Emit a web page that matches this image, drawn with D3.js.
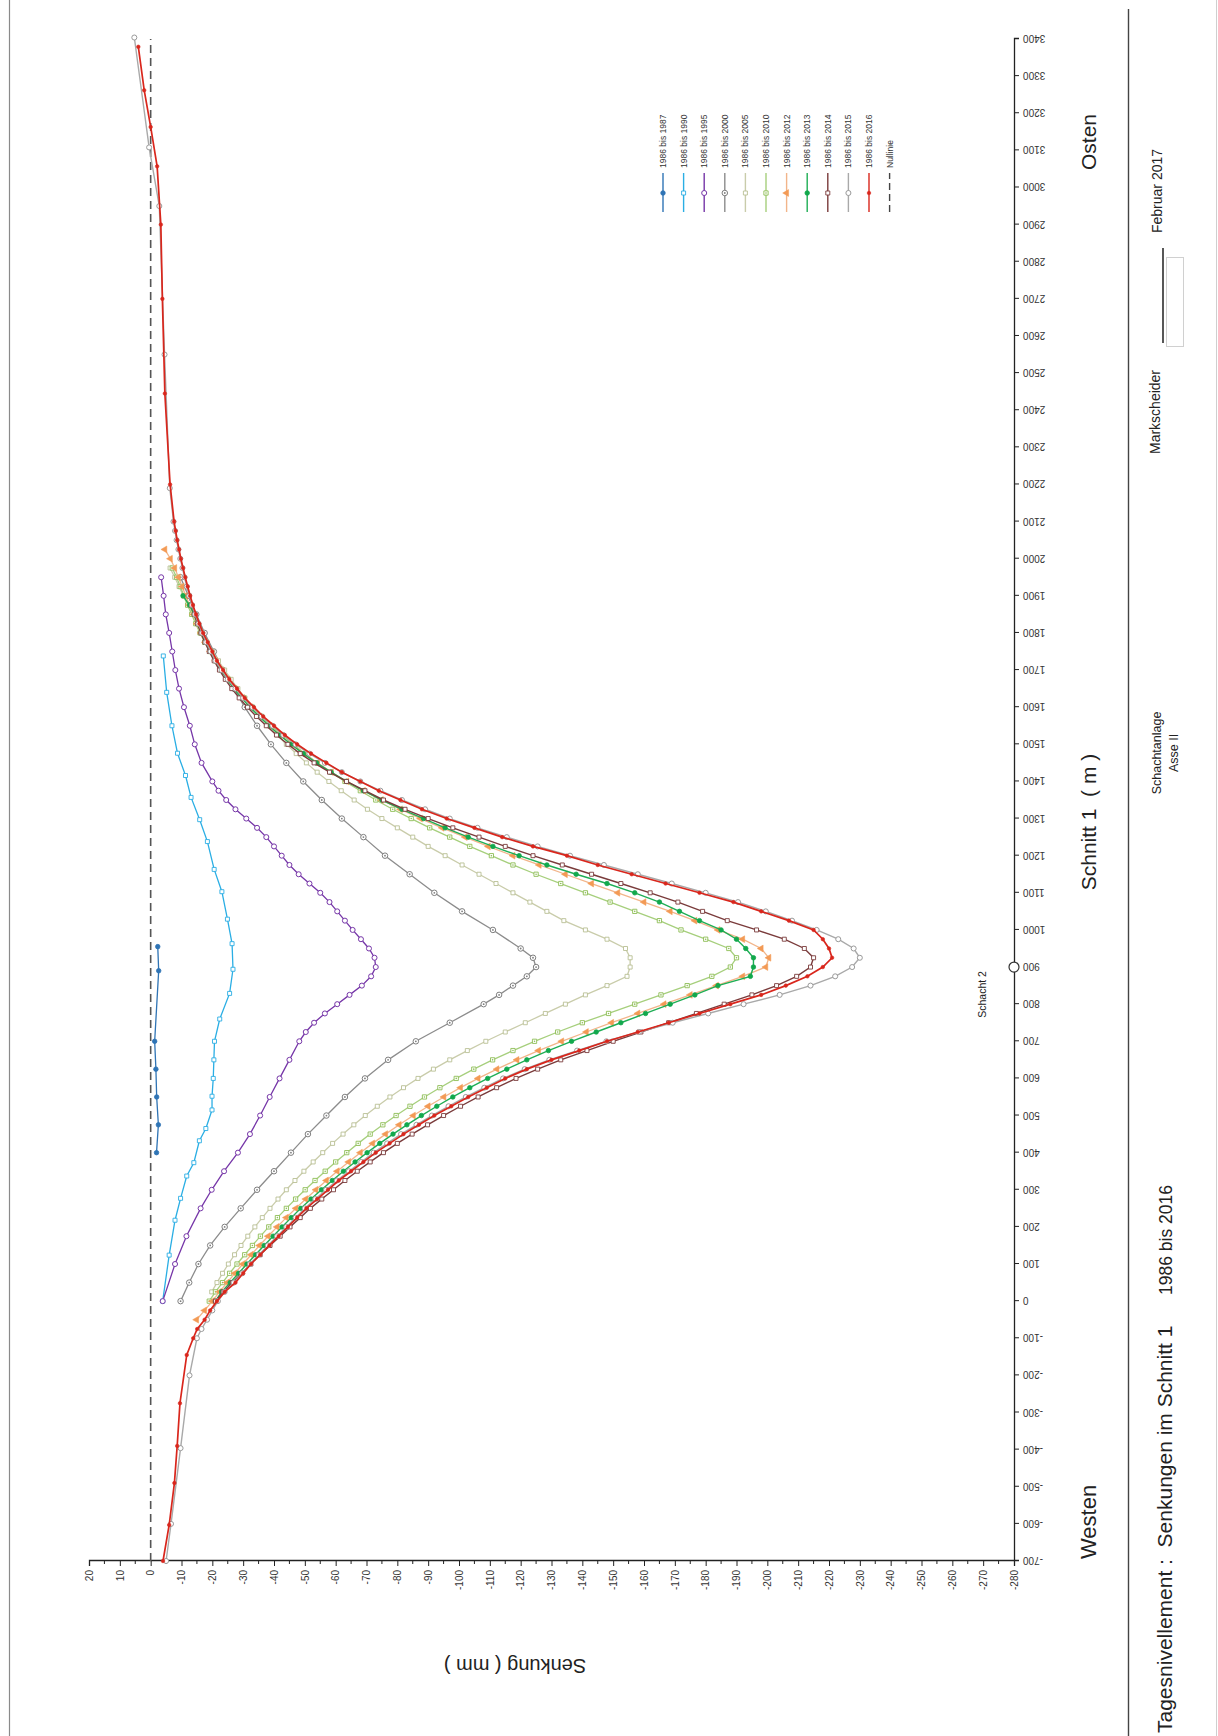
<!DOCTYPE html>
<html><head><meta charset="utf-8">
<script src="https://cdn.jsdelivr.net/npm/d3@7"></script>
<style>
body{margin:0;background:#fff;}
svg{display:block;font-family:"Liberation Sans",Arial,sans-serif;}
</style></head><body>
<svg id="c" width="1218" height="1736"></svg>
<script>
// ---------------- DATA ----------------
const schnittTicks = [-700,-600,-500,-400,-300,-200,-100,0,100,200,300,400,500,600,700,800,900,1000,1100,1200,1300,1400,1500,1600,1700,1800,1900,2000,2100,2200,2300,2400,2500,2600,2700,2800,2900,3000,3100,3200,3300,3400];
const senkungTicks = [20,10,0,-10,-20,-30,-40,-50,-60,-70,-80,-90,-100,-110,-120,-130,-140,-150,-160,-170,-180,-190,-200,-210,-220,-230,-240,-250,-260,-270,-280];
const legendLabels = ["1986 bis 1987","1986 bis 1990","1986 bis 1995","1986 bis 2000","1986 bis 2005","1986 bis 2010","1986 bis 2012","1986 bis 2013","1986 bis 2014","1986 bis 2015","1986 bis 2016","Nullinie"];
const schachtPos = 900;

// sparse series: [position m, Senkung mm]
const s1987 = [[400,-1.9],[475,-2.5],[550,-1.95],[625,-1.7],[700,-1.3],[890,-2.6],[955,-2.3]];
const s1990 = [[0,-3.9],[124,-6.0],[218,-7.9],[277,-9.7],[337,-11.7],[373,-14.0],[432,-15.8],[465,-17.9],[515,-19.9],[552,-19.9],[600,-20.3],[650,-20.5],[700,-20.7],[760,-22.4],[829,-25.6],[894,-26.7],[963,-26.4],[1029,-24.9],[1103,-23.1],[1163,-20.6],[1238,-18.4],[1297,-15.9],[1357,-13.1],[1416,-11.3],[1476,-8.7],[1550,-6.9],[1640,-5.2],[1738,-4.1]];
const s1995 = [[0,-3.9],[100,-7.9],[175,-11.6],[250,-16.2],[300,-19.8],[350,-23.8],[400,-28.3],[450,-32.2],[500,-35.5],[550,-38.6],[600,-41.8],[650,-45],[700,-48.2],[725,-50.3],[750,-53],[775,-56.5],[800,-60.5],[825,-64.5],[850,-68.5],[875,-71.5],[900,-73],[925,-72.6],[950,-70.8],[975,-68.2],[1000,-65.5],[1025,-63],[1050,-60.5],[1075,-58],[1100,-55],[1125,-51.5],[1150,-48],[1175,-45],[1200,-42.5],[1225,-40],[1250,-37.5],[1275,-34.5],[1300,-31],[1325,-27.5],[1350,-24.5],[1375,-22],[1400,-20],[1450,-16.5],[1500,-14.3],[1550,-12.7],[1600,-10.8],[1650,-9.2],[1700,-8],[1750,-7],[1800,-6],[1850,-4.9],[1900,-4.2],[1950,-3.4]];
const s2000 = [[0,-9.7],[50,-12.5],[100,-15.5],[150,-19.3],[200,-24],[250,-29.2],[300,-34.5],[350,-40],[400,-45.5],[450,-51],[500,-57],[550,-63],[600,-69.5],[650,-77],[700,-86],[750,-97],[800,-108],[825,-113],[850,-117.5],[875,-122],[900,-125],[925,-124],[950,-120],[1000,-111],[1050,-101],[1100,-92],[1150,-84],[1200,-76],[1250,-69],[1300,-62],[1350,-55.5],[1400,-49.5],[1450,-44],[1500,-39],[1550,-34.5],[1600,-30.5],[1650,-27],[1700,-23.5],[1750,-20.5],[1800,-17.5],[1850,-14.8],[1900,-12.2],[1950,-9.7]];

// dense series measured every 25 m, starting at the given station
const STEP = 25;
const s2005Start = 25;
const s2005 = [-19.8,-21.5,-23.3,-25.2,-27.2,-29.3,-31.5,-33.8,-36.2,-38.7,
 -41.3,-44,-46.8,-49.7,-52.7,-55.8,-59,-62.4,-65.9,-69.6,
 -73.5,-77.6,-82,-86.7,-91.7,-97,-102.7,-108.7,-115,-121.5,
 -128,-134.5,-141,-148,-154.5,-155.5,-155.5,-154,-148,-141,
 -134,-128.5,-123,-117.5,-112,-106.5,-101,-95.5,-90,-85,
 -80,-75,-70.3,-66,-61.8,-57.8,-54,-50.5,-47.2,-44,
 -41,-38.2,-35.5,-33,-30.6,-28.3,-26.1,-24,-22,-20.1,
 -18.3,-16.6,-15,-13.5,-12,-10.6,-9.2,-7.8,-6.3];
const s2010Start = 0;
const s2010 = [-19,-21,-23.3,-25.6,-28,-30.5,-33,-35.6,-38.3,-41.1,
 -44,-47,-50.1,-53.3,-56.6,-60,-63.6,-67.3,-71.2,-75.3,
 -79.6,-84.1,-88.8,-93.8,-99.1,-104.8,-110.9,-117.5,-124.5,-132,
 -140,-148.5,-157,-165.5,-174,-182,-188,-190,-187.5,-180,
 -172,-165,-157,-149,-141,-133,-125,-117.5,-110.5,-103.5,
 -97,-90.5,-84.5,-78.5,-73,-68,-63,-58.4,-54,-50,
 -46.2,-42.6,-39.2,-36,-33,-30.2,-27.6,-25.2,-23,-21,
 -19.2,-17.5,-16,-14.6,-13.3,-12,-10.8,-9.6,-8.4,-7];
const s2012Start = -50;
const s2012 = [-14.9,-17.5,-20,-22.3,-24.8,-27.3,-29.9,-32.6,-35.3,-38.1,
 -41,-44,-47.1,-50.3,-53.6,-57,-60.5,-64.2,-68,-72,
 -76.2,-80.6,-85.2,-90,-95.1,-100.5,-106.2,-112.3,-118.8,-125.8,
 -133.3,-141.3,-149.5,-158,-166.5,-175,-183.5,-192,-199.5,-200.5,
 -198,-192,-184,-176.5,-168.5,-160,-151.5,-143,-134.5,-126,
 -117.5,-109.5,-102,-94.5,-87.5,-81,-74.8,-69,-63.6,-58.6,
 -54,-49.7,-45.7,-42,-38.6,-35.4,-32.5,-29.8,-27.3,-25,
 -22.9,-21,-19.3,-17.7,-16.3,-15,-13.8,-12.6,-11.4,-10.2,
 -9,-7.8,-6.4,-4.6];
const s2013Start = 0;
const s2013 = [-21,-23,-25.8,-28.5,-31.2,-34,-36.8,-39.7,-42.6,-45.6,
 -48.7,-52,-55.4,-58.9,-62.5,-66.3,-70.2,-74.3,-78.6,-83.1,
 -87.8,-92.8,-98,-103.5,-109.3,-115.5,-122,-129,-136.5,-144.5,
 -152.5,-160.5,-168.5,-176.5,-184,-194.5,-195.5,-195.5,-193,-190,
 -185,-178,-171.5,-165,-157,-148,-138,-128.5,-119.5,-111,
 -103,-95.5,-88.5,-81.5,-75,-69,-63.5,-58.5,-53.8,-49.5,
 -45.5,-41.8,-38.4,-35.2,-32.2,-29.5,-27,-24.8,-22.8,-21,
 -19.3,-17.8,-16.4,-15.2,-14.1,-12.6,-10.5];
const s2014Start = 0;
const s2014 = [-21,-23.5,-26.5,-29.5,-32.5,-35.5,-38.7,-42,-45.2,-48.5,
 -51.8,-55.5,-59.3,-63,-67,-71.2,-75.5,-80,-84.8,-89.8,
 -95,-100.5,-106.2,-112.2,-118.5,-125.5,-133,-141.5,-150,-159,
 -168,-177,-186,-195,-203,-209.5,-214,-215,-212,-205.5,
 -196.5,-187,-179,-171,-162,-152.5,-143,-133.5,-124,-115,
 -106.5,-98,-90,-82.5,-75.5,-69.5,-63.5,-58,-53,-48.5,
 -44.5,-40.8,-37.5,-34.3,-31.4,-28.7,-26.3,-24.2,-22.3,-20.6,
 -19,-17.6,-16.3,-15.2,-14.2,-13.3,-12.5];
const s2015West = [[-700,-5],[-600,-6.6],[-396,-9.7],[-200,-12.6]];
const s2015Start = -100;
const s2015 = [-15,-16.5,-18.3,-20,-21.8,-24,-27,-29.7,-32.2,-35.1,
 -38,-41,-44,-47,-50,-53.4,-56.9,-60.4,-64.3,-68.3,
 -72.3,-76.7,-81.2,-86.2,-91.2,-96.6,-102.2,-108.2,-114.3,-121.3,
 -129.3,-138.3,-147.8,-158.3,-169.3,-180.8,-192.3,-204,-214,-222,
 -227.5,-230,-228,-223,-216,-208,-199.5,-190.5,-180,-169,
 -158,-147,-136,-125.5,-115.5,-106,-97,-89,-81.5,-74.5,
 -68,-62,-56.5,-51.5,-47,-43,-39.5,-36,-33,-30,
 -27.5,-25,-23,-21,-19.5,-18,-16.7,-15.5,-14.4,-13.4,
 -12.5,-11.7,-11,-10.3,-9.6,-9,-8.4,-7.9,-7.4];
const s2015East = [[2190,-6.2],[2550,-4.5],[2950,-2.8],[3108,0.5],[3404,5.3]];
const s2016West = [[-700,-4],[-603,-6],[-490,-7.7],[-390,-8.6],[-275,-9.5],[-145,-11.7]];
const s2016Start = -100;
const s2016 = [-13.8,-15.1,-17.5,-19.3,-21.5,-24,-27.5,-30,-32.5,-35.5,
 -38.5,-41.5,-44.5,-47.5,-50.5,-54,-57.5,-61,-65,-69,
 -73,-77.5,-82,-87,-92,-97.5,-103,-109,-115,-122,
 -130,-139,-148,-158,-168,-178,-188,-198,-206,-213,
 -218,-221,-220,-218,-215,-207,-198,-189,-178,-167,
 -156,-145,-135,-124,-114,-105,-96,-88,-81,-74,
 -68,-62,-57,-52,-47.5,-43.5,-40,-36.5,-33.5,-30.5,
 -28,-25.5,-23.5,-21.5,-20,-18.5,-17,-15.8,-14.7,-13.7,
 -12.8,-12,-11.2,-10.5,-9.8,-9.2,-8.6,-8.1,-7.6];
const s2016East = [[2200,-6.3],[2445,-4.6],[2700,-3.8],[2900,-3.3],[3057,-2.1],[3163,0],[3262,2.1],[3379,4.0]];

// ---------------- BUILD ----------------
const stations = (start, vals) => vals.map((v, i) => [start + STEP * i, v]);

const seriesTable = [
  {label: legendLabels[0],  color: "#2f74b5", mcol: "#2f74b5", marker: "circleFill", w: 1.3, data: s1987},
  {label: legendLabels[1],  color: "#2aaee4", mcol: "#2aaee4", marker: "squareOpen", w: 1.3, data: s1990},
  {label: legendLabels[2],  color: "#7636a8", mcol: "#7636a8", marker: "circleOpen", w: 1.3, data: s1995},
  {label: legendLabels[3],  color: "#8c8c8c", mcol: "#7f7f7f", marker: "circleDot",  w: 1.3, data: s2000},
  {label: legendLabels[4],  color: "#c9ccaa", mcol: "#b9bf94", marker: "squareOpen", w: 1.3, data: stations(s2005Start, s2005)},
  {label: legendLabels[5],  color: "#a6cf7c", mcol: "#8dbd55", marker: "squareDot",  w: 1.3, data: stations(s2010Start, s2010)},
  {label: legendLabels[6],  color: "#f2b58a", mcol: "#f39a55", marker: "triangleFill", w: 1.3, data: stations(s2012Start, s2012)},
  {label: legendLabels[7],  color: "#1fae55", mcol: "#12a84c", marker: "circleFill", w: 1.4, data: stations(s2013Start, s2013)},
  {label: legendLabels[8],  color: "#7a3b3b", mcol: "#7a3b3b", marker: "squareOpen", w: 1.4, data: stations(s2014Start, s2014)},
  {label: legendLabels[9],  color: "#a9a9a9", mcol: "#9a9a9a", marker: "circleOpen", w: 1.4, data: s2015West.concat(stations(s2015Start, s2015), s2015East)},
  {label: legendLabels[10], color: "#d9261c", mcol: "#d9261c", marker: "dotFill",    w: 1.7, data: s2016West.concat(stations(s2016Start, s2016), s2016East)}
];

const svg = d3.select("#c");
const fmt = d => String(d);

// frame lines (portrait)
svg.append("line").attr("x1",9.5).attr("x2",9.5).attr("y1",0).attr("y2",1736).attr("stroke","#8a8a8a").attr("stroke-width",1.2);
svg.append("line").attr("x1",1128.5).attr("x2",1128.5).attr("y1",9).attr("y2",1736).attr("stroke","#444").attr("stroke-width",1.4);
svg.append("line").attr("x1",1216.5).attr("x2",1216.5).attr("y1",0).attr("y2",1736).attr("stroke","#cfcfcf").attr("stroke-width",1);
svg.append("line").attr("x1",1163).attr("x2",1163).attr("y1",248).attr("y2",343).attr("stroke","#111").attr("stroke-width",1.4);
svg.append("rect").attr("x",1166.5).attr("y",257.5).attr("width",17).attr("height",89).attr("fill","none").attr("stroke","#d0d0d0").attr("stroke-width",1);

// chart drawn in landscape orientation, rotated by -90 degrees
const g = svg.append("g").attr("transform","translate(0,1736) rotate(-90)");
const x = d3.scaleLinear().domain([-700, 3400]).range([175, 1697]);
const y = d3.scaleLinear().domain([20, -280]).range([89, 1014]);

// Senkung axis (left in landscape)
const yAxis = d3.axisLeft(y).tickValues(senkungTicks).tickSize(5).tickPadding(4).tickFormat(fmt);
const ya = g.append("g").attr("transform",`translate(${x(-700)},0)`).call(yAxis);
ya.select(".domain").attr("stroke","#222").attr("stroke-width",1.3);
ya.selectAll(".tick line").attr("stroke","#222");
ya.selectAll("text").attr("font-size",10).attr("fill","#333").attr("font-family","Liberation Sans, Arial, sans-serif");
const minor = senkungTicks.slice(1).map(v => v + 5);
ya.selectAll(".minor").data(minor).enter().append("line")
  .attr("x1",-3).attr("x2",0).attr("y1",d=>y(d)).attr("y2",d=>y(d)).attr("stroke","#222");

// Schnitt axis (bottom in landscape)
const xAxis = d3.axisBottom(x).tickValues(schnittTicks).tickSize(5).tickFormat(fmt);
const xa = g.append("g").attr("transform",`translate(0,${y(-280)})`).call(xAxis);
xa.select(".domain").attr("stroke","#222").attr("stroke-width",1.3);
xa.selectAll(".tick line").attr("stroke","#222");
xa.selectAll("text").attr("font-size",10).attr("fill","#333").attr("font-family","Liberation Sans, Arial, sans-serif")
  .attr("transform","rotate(-90)").attr("text-anchor","end").attr("x",-9).attr("y",0).attr("dy","0.35em");

// Nullinie
g.append("line").attr("x1",x(-700)).attr("x2",x(3400)).attr("y1",y(0)).attr("y2",y(0))
  .attr("stroke","#555").attr("stroke-width",1.6).attr("stroke-dasharray","8,5");

// markers
function marker(sel, type, col) {
  const sym = (t, s) => d3.symbol().type(t).size(s)();
  if (type === "circleFill") sel.append("path").attr("d", sym(d3.symbolCircle, 16)).attr("fill", col).attr("stroke", col).attr("stroke-width", 0.8);
  else if (type === "dotFill") sel.append("path").attr("d", sym(d3.symbolCircle, 10)).attr("fill", col).attr("stroke", col).attr("stroke-width", 0.6);
  else if (type === "squareOpen") sel.append("path").attr("d", sym(d3.symbolSquare, 16)).attr("fill", "#fff").attr("stroke", col).attr("stroke-width", 0.9);
  else if (type === "squareDot") { sel.append("path").attr("d", sym(d3.symbolSquare, 18)).attr("fill", "#fff").attr("stroke", col).attr("stroke-width", 0.9);
    sel.append("circle").attr("r", 0.8).attr("fill", col); }
  else if (type === "circleOpen") sel.append("path").attr("d", sym(d3.symbolCircle, 20)).attr("fill", "#fff").attr("stroke", col).attr("stroke-width", 1);
  else if (type === "circleDot") { sel.append("path").attr("d", sym(d3.symbolCircle, 24)).attr("fill", "#fff").attr("stroke", col).attr("stroke-width", 1);
    sel.append("circle").attr("r", 0.9).attr("fill", col); }
  else if (type === "triangleFill") sel.append("path").attr("d", sym(d3.symbolTriangle, 20)).attr("fill", col).attr("stroke", col).attr("stroke-width", 0.5);
}

const line = d3.line().x(d => x(d[0])).y(d => y(d[1]));
seriesTable.forEach(s => {
  const sg = g.append("g");
  sg.append("path").datum(s.data).attr("d", line).attr("fill","none").attr("stroke", s.color).attr("stroke-width", s.w);
  sg.selectAll("g.m").data(s.data).enter().append("g").attr("class","m")
    .attr("transform", d => `translate(${x(d[0])},${y(d[1])})`)
    .each(function(){ marker(d3.select(this), s.marker, s.mcol); });
});

// Schacht 2
g.append("circle").attr("cx", x(schachtPos)).attr("cy", y(-280)).attr("r", 5).attr("fill","#fff").attr("stroke","#333").attr("stroke-width",1.2);
g.append("text").attr("x", x(schachtPos) - 4).attr("y", y(-280) - 28).attr("text-anchor","end").attr("font-size",10.5).attr("fill","#222").text("Schacht 2");

// legend
const lg = g.append("g");
legendLabels.forEach((lab, i) => {
  const ly = 663 + 20.6 * i;
  if (i < seriesTable.length) {
    const s = seriesTable[i];
    lg.append("line").attr("x1",1524).attr("x2",1563).attr("y1",ly).attr("y2",ly).attr("stroke", s.color).attr("stroke-width",1.4);
    const mg = lg.append("g").attr("transform",`translate(1543,${ly})`);
    marker(mg, s.marker, s.mcol);
  } else {
    lg.append("line").attr("x1",1524).attr("x2",1563).attr("y1",ly).attr("y2",ly).attr("stroke","#444").attr("stroke-width",1.4).attr("stroke-dasharray","7,4");
  }
  lg.append("text").attr("x",1568).attr("y",ly).attr("dy","0.35em").attr("font-size",8.5).attr("fill","#333").text(lab);
});

// axis titles and labels
g.append("text").attr("transform","translate(70,515) rotate(-90)").attr("text-anchor","middle").attr("dy","0.35em")
  .attr("font-size",20).attr("fill","#222").attr("xml:space","preserve").text("Senkung ( mm )");
g.append("text").attr("x",177).attr("y",1096).attr("font-size",22).attr("fill","#222").text("Westen");
g.append("text").attr("x",1566).attr("y",1096).attr("font-size",21).attr("fill","#222").text("Osten");
g.append("text").attr("x",914).attr("y",1096).attr("text-anchor","middle").attr("font-size",21).attr("fill","#222").attr("xml:space","preserve").text("Schnitt 1  ( m )");

// title block
g.append("text").attr("x",3).attr("y",1172).attr("font-size",21).attr("fill","#222").attr("xml:space","preserve").text("Tagesnivellement :  Senkungen im Schnitt 1");
g.append("text").attr("x",551).attr("y",1172).attr("text-anchor","end").attr("font-size",17.5).attr("fill","#222").text("1986 bis 2016");
g.append("text").attr("x",983).attr("y",1161).attr("text-anchor","middle").attr("font-size",12.5).attr("fill","#222").text("Schachtanlage");
g.append("text").attr("x",983).attr("y",1178).attr("text-anchor","middle").attr("font-size",12.5).attr("fill","#222").text("Asse II");
g.append("text").attr("x",1282).attr("y",1160).attr("font-size",14).attr("fill","#222").text("Markscheider");
g.append("text").attr("x",1503).attr("y",1162).attr("font-size",14).attr("fill","#222").text("Februar 2017");
</script>
</body></html>
